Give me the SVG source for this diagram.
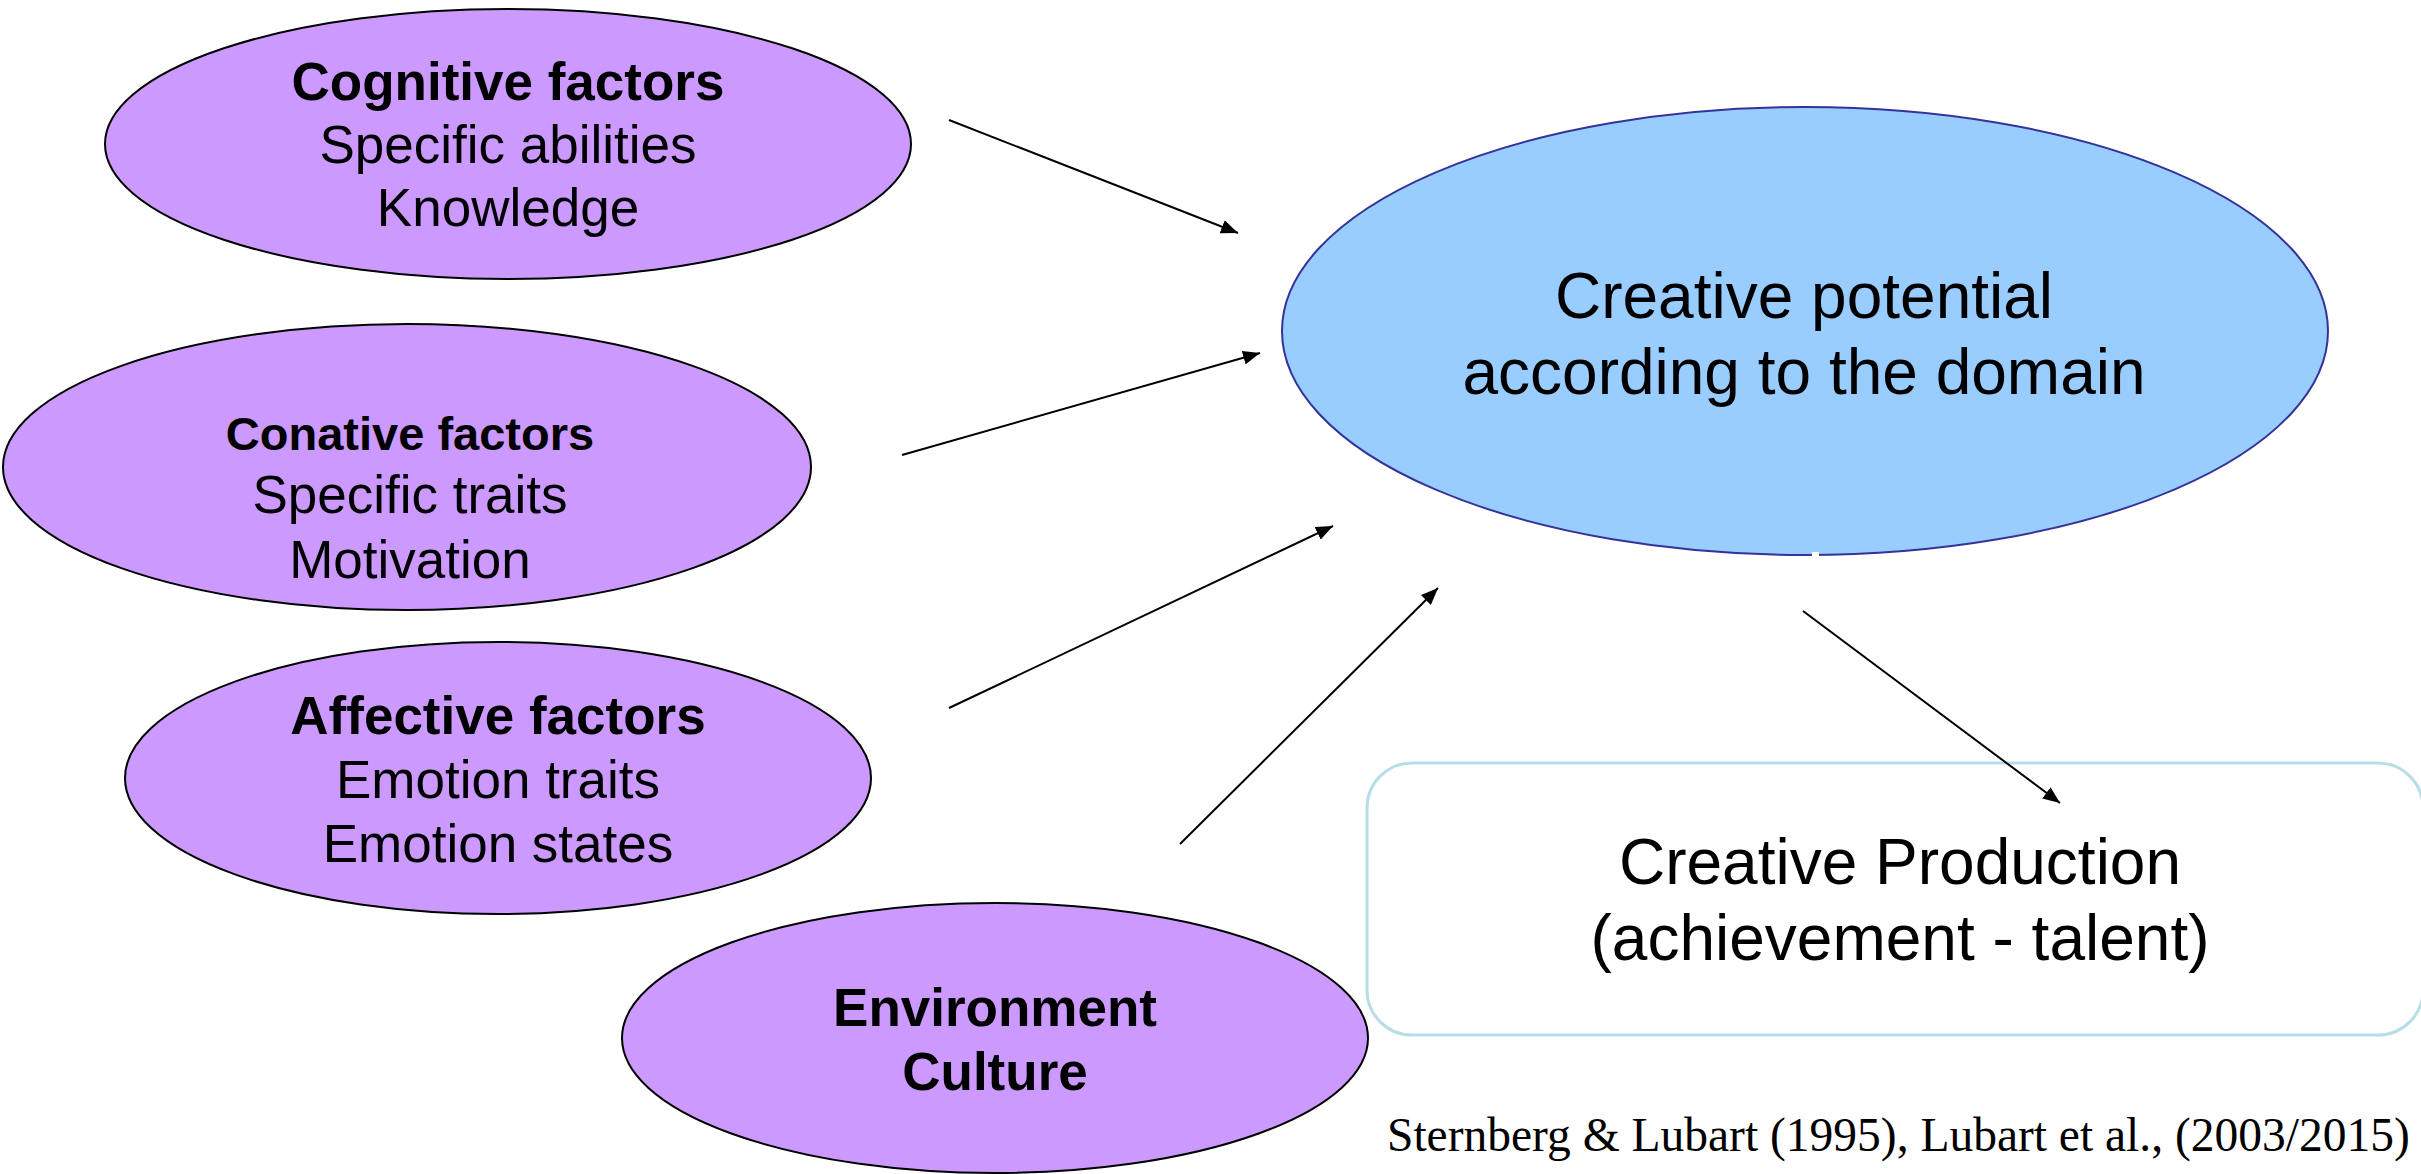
<svg xmlns="http://www.w3.org/2000/svg" width="2421" height="1174" viewBox="0 0 2421 1174">
<style>
.factor{fill:#CC99FF;stroke:#000;stroke-width:2}
.potential{fill:#99CCFF;stroke:#333399;stroke-width:2}
.production{fill:#fff;stroke:#B7DEE8;stroke-width:3}
.t{font-family:"Liberation Sans",Arial,sans-serif;fill:#000;text-anchor:middle}
.b{font-weight:bold}
.s53{font-size:53px}
.s47{font-size:47px}
.s64{font-size:64px}
.cite{font-family:"Liberation Serif","Times New Roman",serif;font-size:47.5px;fill:#000}
.conn{stroke:#000;stroke-width:2;fill:none;marker-end:url(#ah)}
</style>
<defs>
<marker id="ah" markerUnits="userSpaceOnUse" markerWidth="18" markerHeight="14" refX="17" refY="7" orient="auto">
<path d="M0,0 L17,7 L0,14 z" fill="#000"/>
</marker>
</defs>
<rect width="2421" height="1174" fill="#fff"/>
<g id="cognitive">
<ellipse class="factor" cx="508" cy="144" rx="403" ry="135"/>
<text class="t b s53" x="508" y="100">Cognitive factors</text>
<text class="t s53" x="508" y="163">Specific abilities</text>
<text class="t s53" x="508" y="226">Knowledge</text>
</g>
<g id="conative">
<ellipse class="factor" cx="407" cy="467" rx="404" ry="143"/>
<text class="t b s47" x="410" y="450">Conative factors</text>
<text class="t s53" x="410" y="513">Specific traits</text>
<text class="t s53" x="410" y="578">Motivation</text>
</g>
<g id="affective">
<ellipse class="factor" cx="498" cy="778" rx="373" ry="136"/>
<text class="t b s53" x="498" y="734">Affective factors</text>
<text class="t s53" x="498" y="798">Emotion traits</text>
<text class="t s53" x="498" y="862">Emotion states</text>
</g>
<g id="environment">
<ellipse class="factor" cx="995" cy="1038" rx="373" ry="135"/>
<text class="t b s53" x="995" y="1026">Environment</text>
<text class="t b s53" x="995" y="1090">Culture</text>
</g>
<g id="potential">
<ellipse class="potential" cx="1805" cy="331" rx="523" ry="224"/>
<rect x="1812" y="552" width="7" height="7" fill="#fff"/>
<text class="t s64" x="1804" y="318">Creative potential</text>
<text class="t s64" x="1804" y="394">according to the domain</text>
</g>
<g id="production">
<rect class="production" x="1367" y="763" width="1056" height="272" rx="45" ry="45"/>
<text class="t s64" x="1900" y="884">Creative Production</text>
<text class="t s64" x="1900" y="960">(achievement - talent)</text>
</g>
<g id="citation">
<text class="cite" x="1387" y="1151">Sternberg &amp; Lubart (1995), Lubart et al., (2003/2015)</text>
</g>
<g id="connectors">
<line class="conn" x1="949" y1="120" x2="1238" y2="233"/>
<line class="conn" x1="902" y1="455" x2="1260" y2="353"/>
<line class="conn" x1="949" y1="708" x2="1333" y2="526"/>
<line class="conn" x1="1180" y1="844" x2="1438" y2="588"/>
<line class="conn" x1="1803" y1="611" x2="2060" y2="803"/>
</g>
</svg>
